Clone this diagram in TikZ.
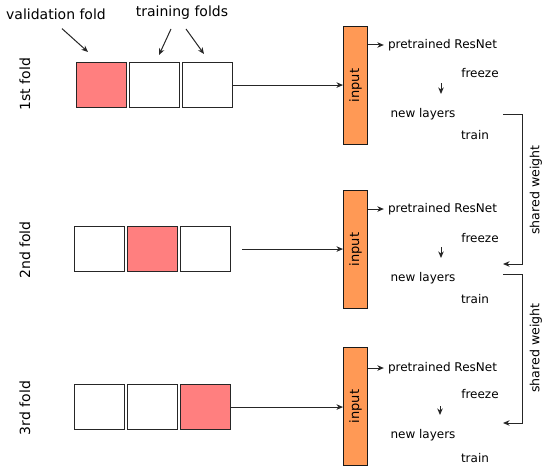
\documentclass[tikz,border=0pt]{standalone}
\usepackage{fontspec}
\setmainfont{DejaVu Sans}
\usetikzlibrary{arrows.meta}
\definecolor{valred}{HTML}{FF7F7F}
\definecolor{inorange}{HTML}{FF9955}
\begin{document}
\begin{tikzpicture}[x=1pt,y=-1pt,
  fold/.style={draw=black!85,line width=1.1pt,fill=white,minimum width=50pt,minimum height=45pt,inner sep=0,anchor=north west},
  val/.style={fold,fill=valred},
  inbox/.style={draw=black!90,line width=1.1pt,fill=inorange,minimum width=24pt,minimum height=118pt,inner sep=0,anchor=north west},
  lbl/.style={inner sep=0,font=\fontsize{12}{14}\selectfont},
  rlbl/.style={inner sep=0,font=\fontsize{12.6}{15}\selectfont},
  big/.style={inner sep=0,font=\fontsize{14}{16}\selectfont},
  arr/.style={line width=1pt,draw=black!85,-{Stealth[length=6.5pt,width=5.5pt,inset=2pt]}},
  ln/.style={line width=1pt,draw=black!85}]
\useasboundingbox (0,0) rectangle (543,468);

% top labels
\node[big] (vl) at (56,14) {validation fold};
\node[big] (tl) at (182,13) {training folds};
\coordinate (va) at (88,52);
\coordinate (ta) at (159,55);
\coordinate (tb) at (204,54);
\draw[arr] ([xshift=6,yshift=-9]vl.south) -- (va);
\draw[arr] ([xshift=-11,yshift=-9]tl.south) -- (ta);
\draw[arr] ([xshift=4,yshift=-9]tl.south) -- (tb);

% fold labels
\node[big,rotate=90] (f1) at (25,84) {1st fold};
\node[big,rotate=90] (f2) at (25,250) {2nd fold};
\node[big,rotate=90] (f3) at (25,408) {3rd fold};

% row 1
\node[val]  (s11) at (76,62) {};
\node[fold] (s12) at (129,62) {};
\node[fold] (s13) at (182,62) {};
\node[inbox] (in1) at (343,26) {};
\node[rlbl,font=\fontsize{13}{15}\selectfont,rotate=90] at (in1.center) {input};
\draw[arr] (s13.east) -- (s13.east -| in1.west);
\node[lbl] (pr1) at (442.5,45) {pretrained ResNet};
\node[lbl] (fr1) at (480,73) {freeze};
\node[lbl] (nl1) at (423,114) {new layers};
\node[lbl] (tr1) at (475,135) {train};
\draw[arr,shorten >=4pt] (in1.east |- pr1.west) -- (pr1.west);
\draw[arr,shorten <=32pt,shorten >=14pt] ([xshift=-1.5]pr1.south) -- ([xshift=18]nl1.north);

% row 2
\node[fold] (s21) at (74,226) {};
\node[val]  (s22) at (127,226) {};
\node[fold] (s23) at (180,226) {};
\node[inbox] (in2) at (343,190) {};
\node[rlbl,font=\fontsize{13}{15}\selectfont,rotate=90] at (in2.center) {input};
\draw[arr,shorten <=11pt] (s23.east) -- (s23.east -| in2.west);
\node[lbl] (pr2) at (442.5,209) {pretrained ResNet};
\node[lbl] (fr2) at (480,238) {freeze};
\node[lbl] (nl2) at (423,278) {new layers};
\node[lbl] (tr2) at (475,299) {train};
\draw[arr,shorten >=4pt] (in2.east |- pr2.west) -- (pr2.west);
\draw[arr,shorten <=32pt,shorten >=14pt] ([xshift=-1.5]pr2.south) -- ([xshift=18]nl2.north);

% row 3
\node[fold] (s31) at (74,384) {};
\node[fold] (s32) at (127,384) {};
\node[val]  (s33) at (180,384) {};
\node[inbox] (in3) at (343,347) {};
\node[rlbl,font=\fontsize{13}{15}\selectfont,rotate=90] at (in3.center) {input};
\draw[arr] (s33.east) -- (s33.east -| in3.west);
\node[lbl] (pr3) at (442.5,368) {pretrained ResNet};
\node[lbl] (fr3) at (480,394) {freeze};
\node[lbl] (nl3) at (423,435) {new layers};
\node[lbl] (tr3) at (475,458) {train};
\draw[arr,shorten >=4pt] (in3.east |- pr3.west) -- (pr3.west);
\draw[arr,shorten <=32pt,shorten >=14pt] ([xshift=-2.5]pr3.south) -- ([xshift=17]nl3.north);

% shared weight brackets
\coordinate (b1s) at (503,115);
\coordinate (b1e) at (503,264);
\coordinate (b2s) at (503,274);
\coordinate (b2e) at (503,423);
\draw[arr] (b1s) -- ++(19,0) |- (b1e);
\draw[arr] (b2s) -- ++(19,0) |- (b2e);
\node[rlbl,rotate=90] (sw1) at (536,190) {shared weight};
\node[rlbl,rotate=90] (sw2) at (536,348) {shared weight};
\end{tikzpicture}
\end{document}
